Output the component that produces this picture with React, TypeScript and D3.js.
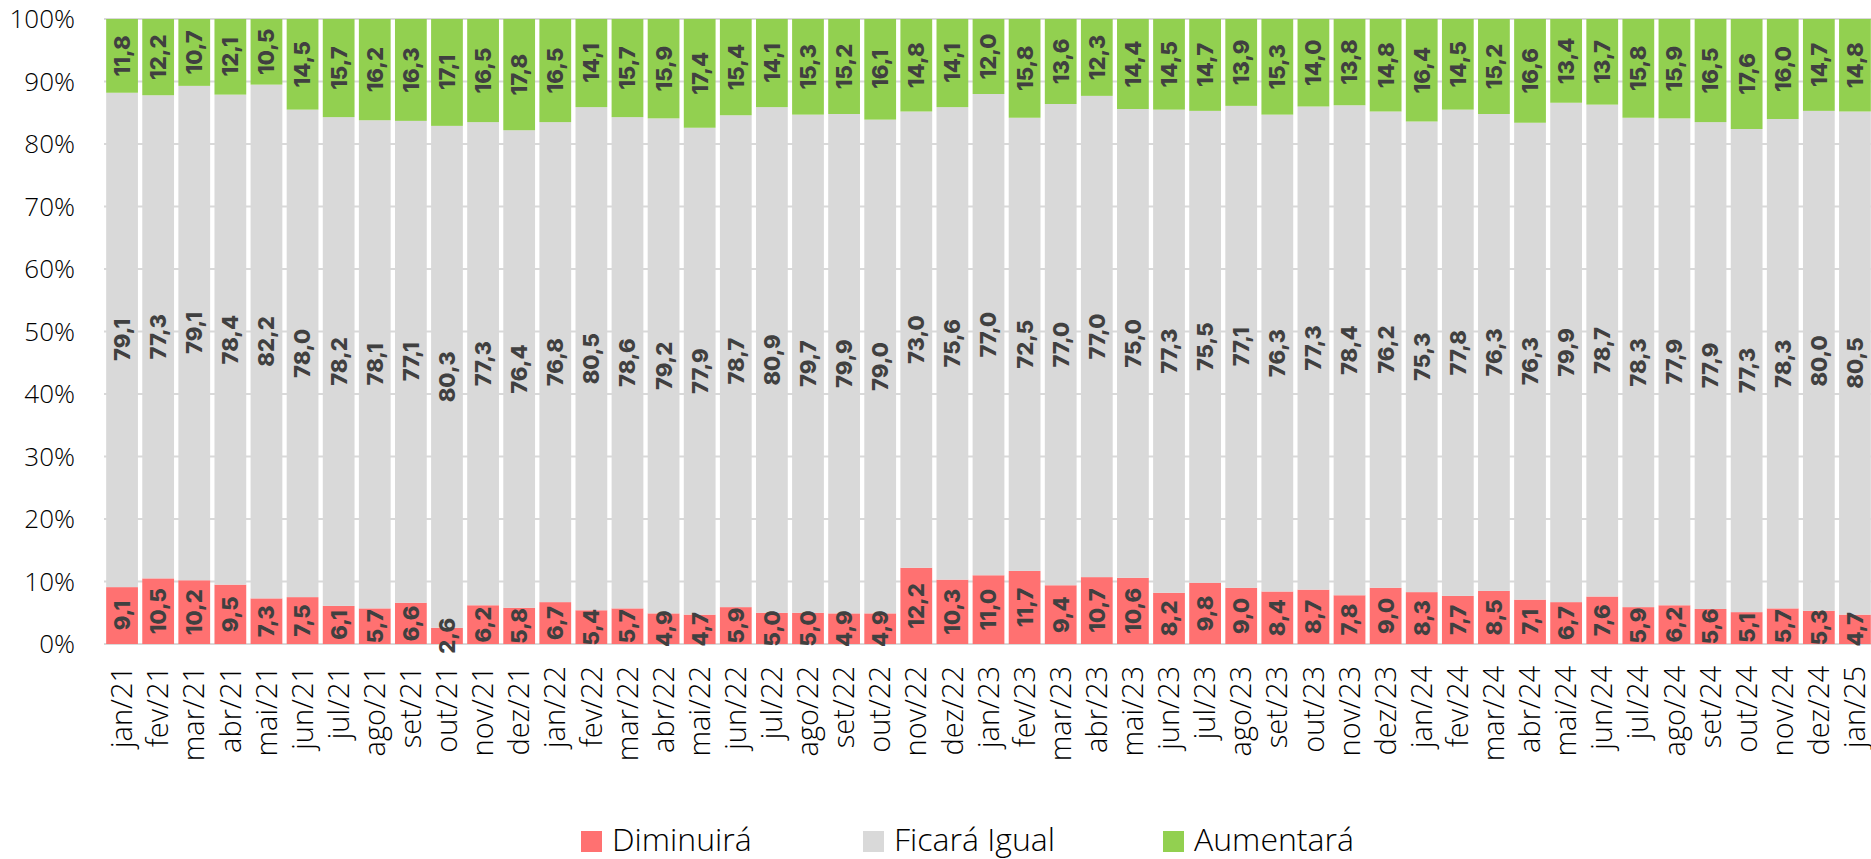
import React, { useEffect, useRef } from 'react';
import * as d3 from 'd3';

// month labels
const months = [
  'jan/21', 'fev/21', 'mar/21', 'abr/21', 'mai/21', 'jun/21', 'jul/21', 'ago/21', 'set/21', 'out/21', 'nov/21', 'dez/21',
  'jan/22', 'fev/22', 'mar/22', 'abr/22', 'mai/22', 'jun/22', 'jul/22', 'ago/22', 'set/22', 'out/22', 'nov/22', 'dez/22',
  'jan/23', 'fev/23', 'mar/23', 'abr/23', 'mai/23', 'jun/23', 'jul/23', 'ago/23', 'set/23', 'out/23', 'nov/23', 'dez/23',
  'jan/24', 'fev/24', 'mar/24', 'abr/24', 'mai/24', 'jun/24', 'jul/24', 'ago/24', 'set/24', 'out/24', 'nov/24', 'dez/24',
  'jan/25',
];

const diminuira = [
  9.1, 10.5, 10.2, 9.5, 7.3, 7.5, 6.1, 5.7, 6.6, 2.6, 6.2, 5.8,
  6.7, 5.4, 5.7, 4.9, 4.7, 5.9, 5.0, 5.0, 4.9, 4.9, 12.2, 10.3,
  11.0, 11.7, 9.4, 10.7, 10.6, 8.2, 9.8, 9.0, 8.4, 8.7, 7.8, 9.0,
  8.3, 7.7, 8.5, 7.1, 6.7, 7.6, 5.9, 6.2, 5.6, 5.1, 5.7, 5.3,
  4.7,
];

const ficaraIgual = [
  79.1, 77.3, 79.1, 78.4, 82.2, 78.0, 78.2, 78.1, 77.1, 80.3, 77.3, 76.4,
  76.8, 80.5, 78.6, 79.2, 77.9, 78.7, 80.9, 79.7, 79.9, 79.0, 73.0, 75.6,
  77.0, 72.5, 77.0, 77.0, 75.0, 77.3, 75.5, 77.1, 76.3, 77.3, 78.4, 76.2,
  75.3, 77.8, 76.3, 76.3, 79.9, 78.7, 78.3, 77.9, 77.9, 77.3, 78.3, 80.0,
  80.5,
];

const aumentara = [
  11.8, 12.2, 10.7, 12.1, 10.5, 14.5, 15.7, 16.2, 16.3, 17.1, 16.5, 17.8,
  16.5, 14.1, 15.7, 15.9, 17.4, 15.4, 14.1, 15.3, 15.2, 16.1, 14.8, 14.1,
  12.0, 15.8, 13.6, 12.3, 14.4, 14.5, 14.7, 13.9, 15.3, 14.0, 13.8, 14.8,
  16.4, 14.5, 15.2, 16.6, 13.4, 13.7, 15.8, 15.9, 16.5, 17.6, 16.0, 14.7,
  14.8,
];

const seriesNames = ['Diminuirá', 'Ficará Igual', 'Aumentará'];
const seriesColors = ['#FF7171', '#D9D9D9', '#92D050'];
const yTicks = [0, 10, 20, 30, 40, 50, 60, 70, 80, 90, 100];

const App = () => {
  const svgRef = useRef(null);

  useEffect(() => {
    d3.select(svgRef.current).selectAll('*').remove();

    const width = 1871;
    const height = 859;
    const margin = { top: 19, right: -2, bottom: 215, left: 104 };

    const svg = d3.select(svgRef.current).attr('width', width).attr('height', height);

    const rows = months.map((m, i) => {
      const vals = [diminuira[i], ficaraIgual[i], aumentara[i]];
      const total = d3.sum(vals);
      return { month: m, vals, total };
    });

    const xScale = d3.scaleBand().domain(months).range([margin.left, width - margin.right]).paddingInner(0.12).paddingOuter(0.06);
    const yScale = d3.scaleLinear().domain([0, 100]).range([height - margin.bottom, margin.top]);

    // gridlines
    svg.append('g')
      .selectAll('line')
      .data(yTicks)
      .enter()
      .append('line')
      .attr('x1', margin.left)
      .attr('x2', width)
      .attr('y1', (d) => yScale(d))
      .attr('y2', (d) => yScale(d))
      .attr('stroke', '#D9D9D9')
      .attr('stroke-width', 2);

    // y labels
    svg.append('g')
      .selectAll('text')
      .data(yTicks)
      .enter()
      .append('text')
      .attr('x', 75)
      .attr('y', (d) => yScale(d))
      .attr('dy', '0.35em')
      .attr('text-anchor', 'end')
      .style('font-family', '"Open Sans", sans-serif')
      .style('font-weight', 300)
      .style('font-size', '26px')
      .attr('fill', '#000')
      .text((d) => `${d}%`);

    const fmt = (v) => d3.format('.1f')(v).replace('.', ',');

    // stacked bars
    rows.forEach((r) => {
      let acc = 0;
      r.vals.forEach((v, k) => {
        const y0 = (acc / r.total) * 100;
        const y1 = ((acc + v) / r.total) * 100;
        acc += v;
        svg.append('rect')
          .attr('x', xScale(r.month))
          .attr('y', yScale(y1))
          .attr('width', xScale.bandwidth())
          .attr('height', yScale(y0) - yScale(y1))
          .attr('fill', seriesColors[k]);
      });
    });

    // data labels
    rows.forEach((r) => {
      let acc = 0;
      r.vals.forEach((v) => {
        const mid = ((acc + v / 2) / r.total) * 100;
        acc += v;
        const cx = xScale(r.month) + xScale.bandwidth() / 2;
        const cy = yScale(mid);
        svg.append('text')
          .attr('transform', `translate(${cx},${cy}) rotate(-90)`)
          .attr('text-anchor', 'middle')
          .attr('dy', '0.36em')
          .style('font-family', 'Inter, sans-serif')
          .style('font-weight', 800)
          .style('font-size', '22px')
          .attr('fill', '#404040')
          .text(fmt(v));
      });
    });

    // x labels
    const axisY = yScale(0);
    svg.append('g')
      .selectAll('text')
      .data(months)
      .enter()
      .append('text')
      .attr('transform', (d) => `translate(${xScale(d) + xScale.bandwidth() / 2},${axisY + 22}) rotate(-90)`)
      .attr('text-anchor', 'end')
      .attr('dy', '0.35em')
      .style('font-family', '"Open Sans", sans-serif')
      .style('font-weight', 300)
      .style('font-size', '29px')
      .attr('fill', '#000')
      .text((d) => d);

    // legend
    const legendX = [581, 863, 1163];
    const legend = svg.append('g');
    seriesNames.forEach((name, k) => {
      legend.append('rect')
        .attr('x', legendX[k])
        .attr('y', 831)
        .attr('width', 21)
        .attr('height', 21)
        .attr('fill', seriesColors[k]);
      legend.append('text')
        .attr('x', legendX[k] + 31)
        .attr('y', 851)
        .style('font-family', '"Open Sans", sans-serif')
        .style('font-weight', 300)
        .style('font-size', '32px')
        .attr('fill', '#000')
        .text(name);
    });
  }, []);

  return (
    <>
      <style>{'body{margin:0;overflow:hidden}'}</style>
      <svg ref={svgRef}></svg>
    </>
  );
};

export default App;
